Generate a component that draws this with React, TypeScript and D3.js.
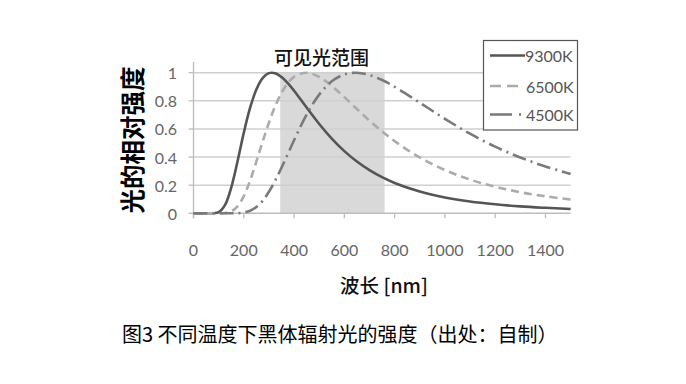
import React from "react";
import * as d3 from "d3";

const wavelengths = [0, 50, 100, 125, 150, 175, 200, 225, 250, 275, 300, 325, 350, 375, 400, 450, 500, 550, 600, 650, 700, 750, 800, 900, 1000, 1100, 1200, 1300, 1400, 1500];
const series9300 = [0, 0, 0.008, 0.058, 0.183, 0.369, 0.572, 0.749, 0.881, 0.962, 0.997, 0.996, 0.969, 0.926, 0.872, 0.752, 0.635, 0.531, 0.442, 0.368, 0.307, 0.257, 0.216, 0.155, 0.113, 0.084, 0.064, 0.049, 0.039, 0.031];
const series6500 = [0, 0, 0, 0.002, 0.013, 0.049, 0.122, 0.232, 0.367, 0.509, 0.645, 0.762, 0.857, 0.926, 0.971, 1.0, 0.97, 0.906, 0.826, 0.742, 0.659, 0.583, 0.513, 0.397, 0.308, 0.24, 0.189, 0.15, 0.121, 0.098];
const series4500 = [0, 0, 0, 0, 0, 0.001, 0.006, 0.018, 0.045, 0.089, 0.153, 0.232, 0.324, 0.421, 0.52, 0.702, 0.844, 0.939, 0.988, 1.0, 0.983, 0.948, 0.9, 0.787, 0.672, 0.566, 0.474, 0.397, 0.333, 0.28];
const seriesNames = ["9300K", "6500K", "4500K"];
const xTicks = [0, 200, 400, 600, 800, 1000, 1200, 1400];
const yTicks = [0, 0.2, 0.4, 0.6, 0.8, 1];
const yTickLabels = ["0", "0.2", "0.4", "0.6", "0.8", "1"];
const visibleRange = [345, 760];
const visibleLabel = "可见光范围";
const xTitle = "波长 [nm]";
const yTitle = "光的相对强度";
const caption = "图3 不同温度下黑体辐射光的强度（出处：自制）";

const styles = [
  { color: "#555555", dash: "none" },
  { color: "#ababab", dash: "8,5" },
  { color: "#7a7a7a", dash: "14,5,2,5" },
];

export default function App() {
  const x = d3.scaleLinear().domain([0, 1500]).range([193.5, 570.6]);
  const y = d3.scaleLinear().domain([0, 1]).range([213.3, 72.7]);
  const allSeries = [series9300, series6500, series4500];
  const line = d3
    .line<number>()
    .x((_, i) => x(wavelengths[i]))
    .y((d) => y(d))
    .curve(d3.curveCatmullRom.alpha(0.5));
  const tickFont = "Lato, 'Open Sans', sans-serif";
  const cjk = "'Noto Sans CJK SC', sans-serif";
  const legendY = [55.5, 86, 114.5];

  return (
    <svg
      width={686}
      height={384}
      style={{ position: "absolute", left: 0, top: 0, background: "#fff" }}
    >
      <rect x={0} y={0} width={686} height={384} fill="#fff" />
      {/* visible range */}
      <rect
        x={x(visibleRange[0])}
        y={y(1)}
        width={x(visibleRange[1]) - x(visibleRange[0])}
        height={y(0) - y(1)}
        fill="#d9d9d9"
      />
      {/* gridlines */}
      {yTicks.slice(1).map((t) => (
        <line
          key={t}
          x1={x(0)}
          x2={x(1500)}
          y1={y(t)}
          y2={y(t)}
          stroke="#cfcfcf"
          strokeWidth={1.6}
        />
      ))}
      {/* axes */}
      <line x1={x(0)} x2={x(0)} y1={62} y2={y(0) + 5} stroke="#bdbdbd" strokeWidth={1.3} />
      <line x1={x(0)} x2={x(1500)} y1={y(0)} y2={y(0)} stroke="#bdbdbd" strokeWidth={1.6} />
      {yTicks.map((t) => (
        <line key={"yt" + t} x1={x(0) - 5} x2={x(0)} y1={y(t)} y2={y(t)} stroke="#bdbdbd" strokeWidth={1.3} />
      ))}
      {xTicks.map((t) => (
        <line key={"xt" + t} x1={x(t)} x2={x(t)} y1={y(0)} y2={y(0) + 5} stroke="#bdbdbd" strokeWidth={1.3} />
      ))}
      {/* tick labels */}
      {yTicks.map((t, i) => (
        <text
          key={"yl" + t}
          x={177}
          y={y(t)}
          textAnchor="end"
          dominantBaseline="central"
          fontFamily={tickFont}
          fontSize={16}
          fill="#666"
        >
          {yTickLabels[i]}
        </text>
      ))}
      {xTicks.map((t) => (
        <text
          key={"xl" + t}
          x={x(t)}
          y={249}
          textAnchor="middle"
          dominantBaseline="central"
          fontFamily={tickFont}
          fontSize={16}
          fill="#666"
        >
          {t}
        </text>
      ))}
      {/* series */}
      {allSeries.map((s, i) => (
        <path
          key={seriesNames[i]}
          d={line(s) || ""}
          fill="none"
          stroke={styles[i].color}
          strokeWidth={2.6}
          strokeDasharray={styles[i].dash}
        />
      ))}
      {/* legend */}
      <rect x={483.5} y={40.5} width={94} height={89.5} fill="#fff" stroke="#555" strokeWidth={1.2} />
      {seriesNames.map((n, i) => (
        <g key={"lg" + n}>
          <line
            x1={490}
            x2={i === 0 ? 525 : 523}
            y1={legendY[i]}
            y2={legendY[i]}
            stroke={styles[i].color}
            strokeWidth={2.6}
            strokeDasharray={i === 1 ? "11,6" : i === 2 ? "22,7,2,7" : "none"}
          />
          <text
            x={i === 0 ? 525 : 526}
            y={legendY[i]}
            dominantBaseline="central"
            fontFamily={tickFont}
            fontSize={16}
            fill="#555"
          >
            {n}
          </text>
        </g>
      ))}
      {/* titles */}
      <text
        x={(x(visibleRange[0]) + x(visibleRange[1])) / 2 - 11}
        y={56.5}
        textAnchor="middle"
        dominantBaseline="central"
        fontFamily={cjk}
        fontSize={19}
        fontWeight={500}
        fill="#111"
      >
        {visibleLabel}
      </text>
      <text
        transform="translate(131.5,140) rotate(-90)"
        textAnchor="middle"
        dominantBaseline="central"
        fontFamily={cjk}
        fontSize={24.5}
        fontWeight={700}
        fill="#000"
      >
        {yTitle}
      </text>
      <text
        x={384}
        y={284}
        textAnchor="middle"
        dominantBaseline="central"
        fontFamily={cjk}
        fontSize={19.5}
        fontWeight={500}
        fill="#111"
      >
        {xTitle}
      </text>
      <text
        x={122}
        y={333}
        dominantBaseline="central"
        fontFamily={cjk}
        fontSize={20}
        fill="#000"
      >
        {caption}
      </text>
    </svg>
  );
}
